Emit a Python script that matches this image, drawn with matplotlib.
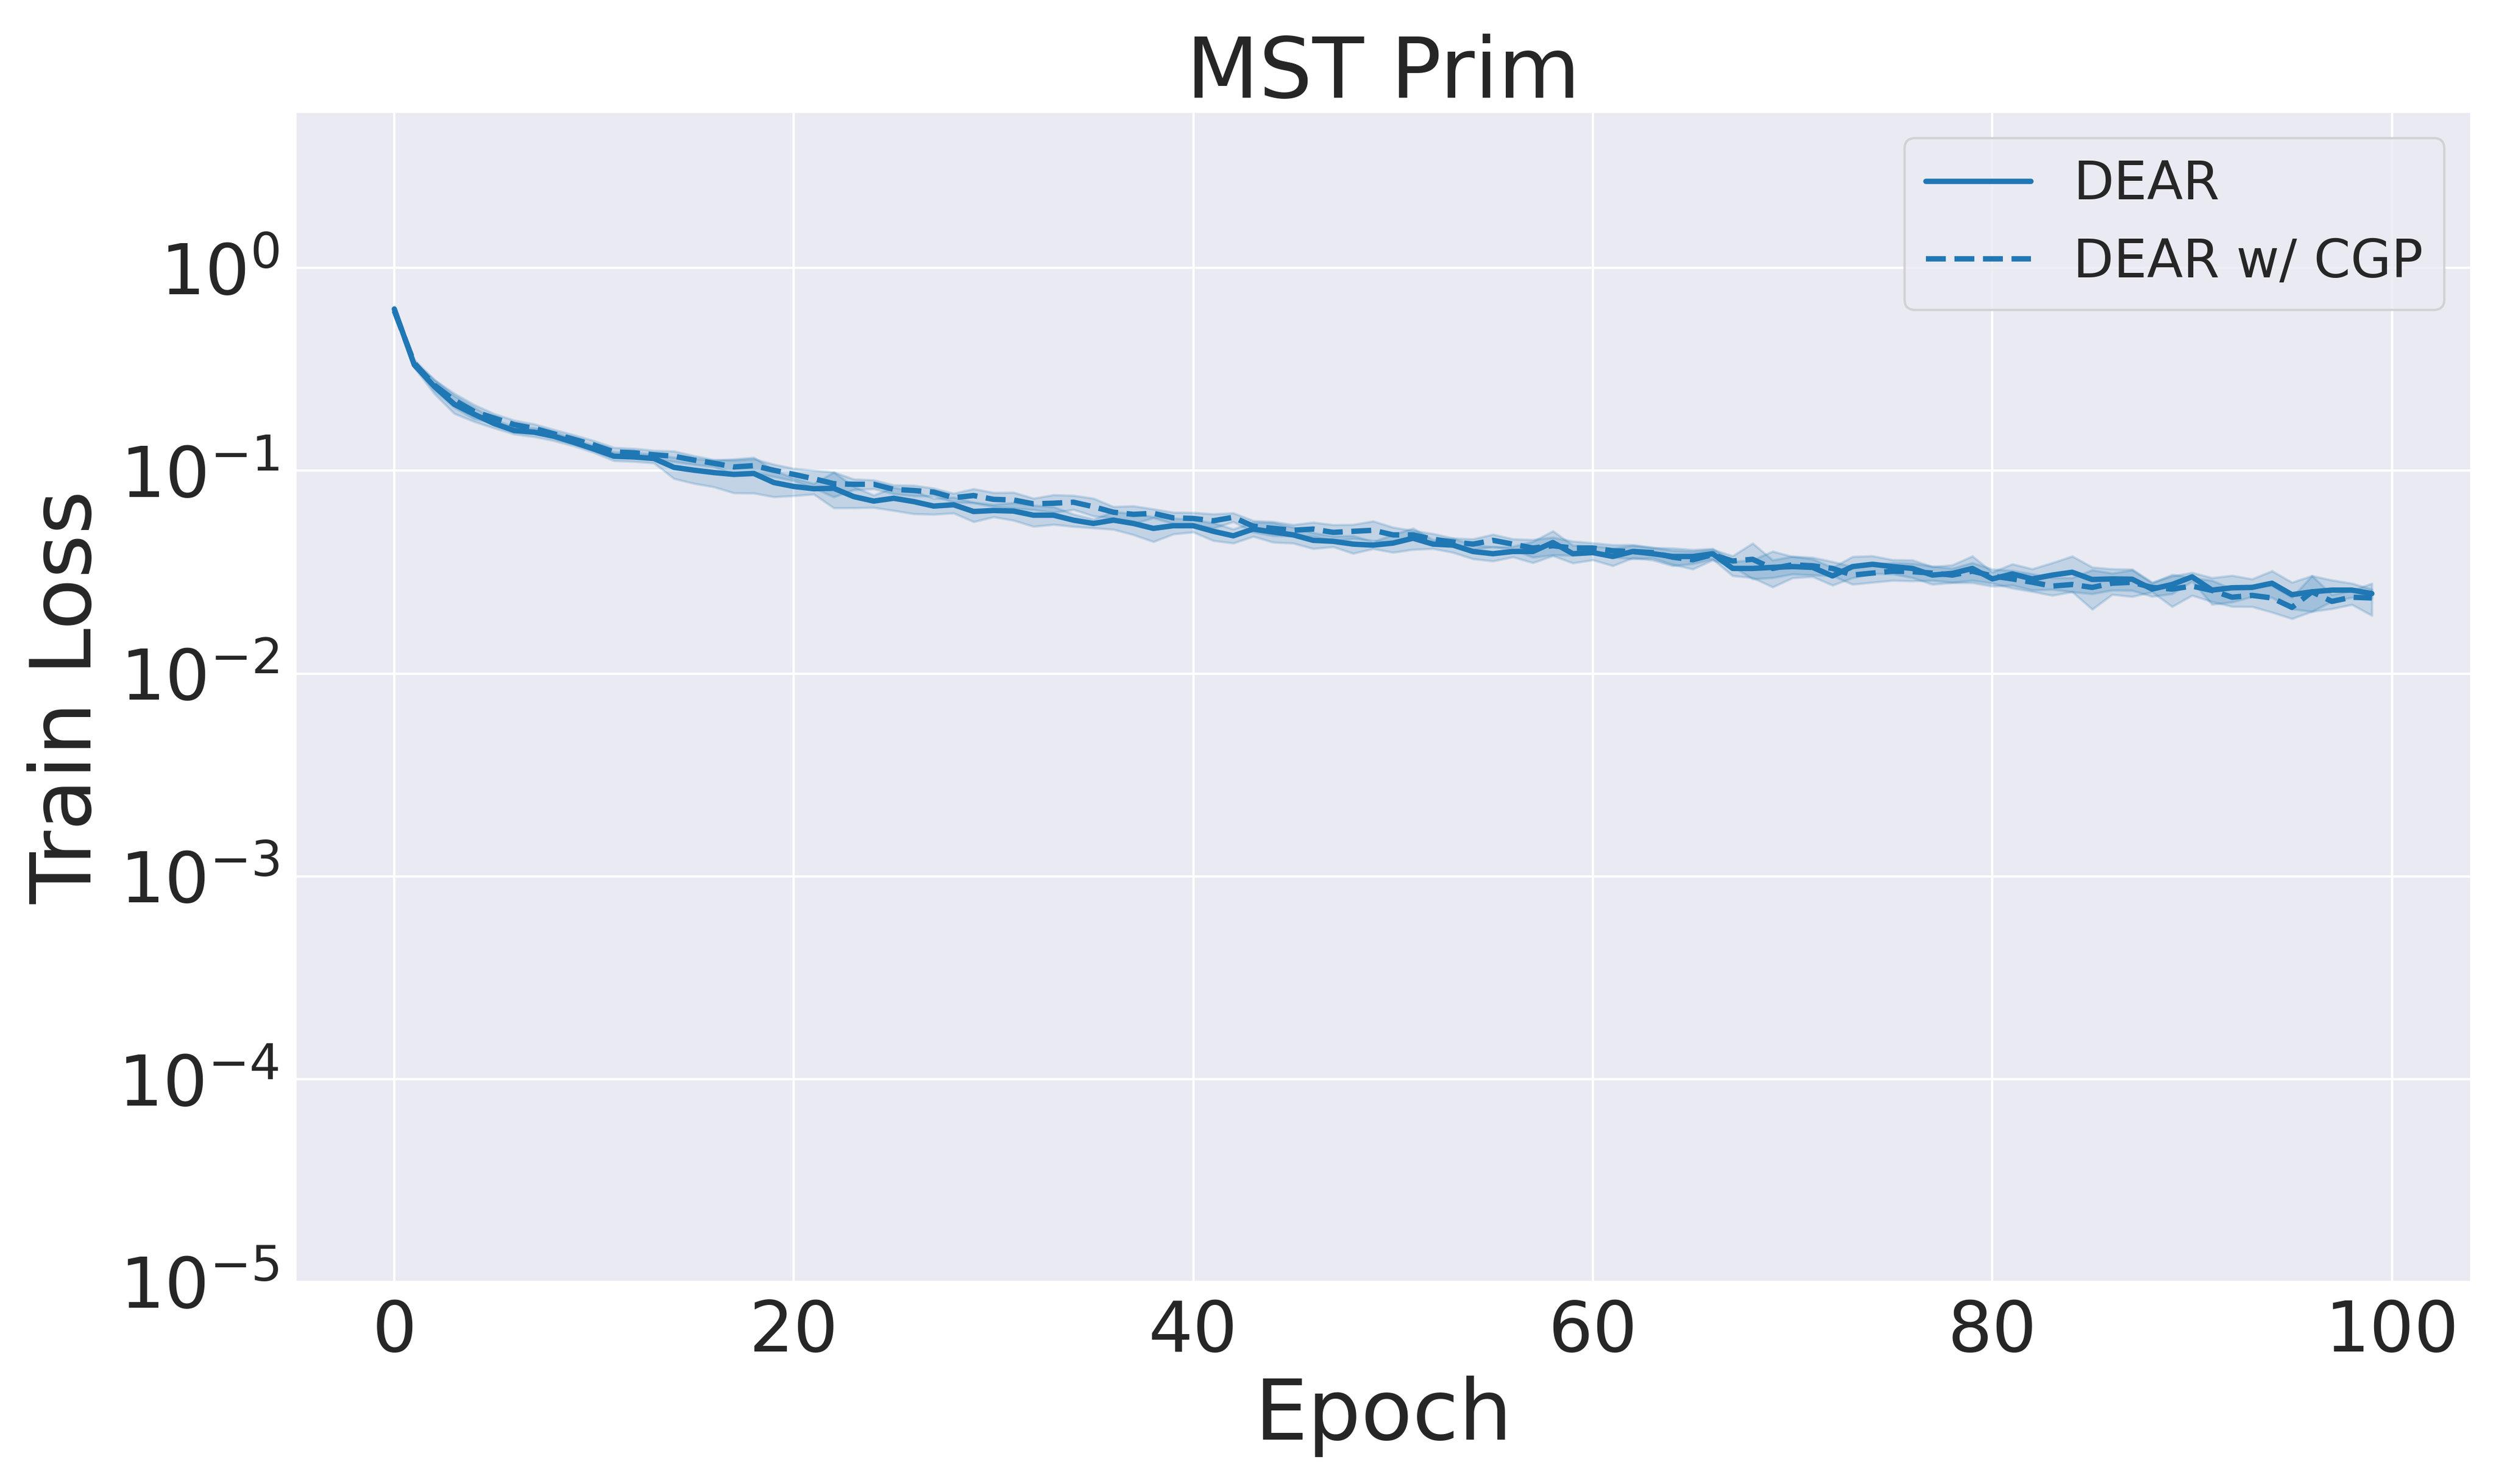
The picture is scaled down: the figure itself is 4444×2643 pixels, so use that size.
import numpy as np
import matplotlib
matplotlib.use("Agg")
import matplotlib.pyplot as plt
import seaborn as sns

epochs = list(range(100))

dear_mean = [
    0.628, 0.333, 0.261, 0.213, 0.190, 0.171, 0.158, 0.155, 0.148, 0.138,
    0.128, 0.118, 0.117, 0.115, 0.104, 0.1007, 0.098, 0.096, 0.097, 0.0875,
    0.0837, 0.0816, 0.082, 0.0746, 0.0709, 0.0732, 0.0705,
    0.067, 0.068, 0.063, 0.0637, 0.0633, 0.0604, 0.0604, 0.0571, 0.055, 0.0571,
    0.055, 0.052, 0.0536, 0.0536, 0.0503, 0.0478, 0.0516, 0.0499, 0.0483, 0.0454,
    0.0449, 0.0435, 0.043, 0.044, 0.0465, 0.0435, 0.043,
    0.040, 0.039, 0.040, 0.040, 0.0443, 0.039, 0.0395, 0.0378, 0.040, 0.039,
    0.0378, 0.0378, 0.039, 0.033, 0.033, 0.0334, 0.0337, 0.0334, 0.0303, 0.0337,
    0.0346, 0.0337, 0.033, 0.0306,
    0.0312, 0.033, 0.0293, 0.031, 0.0293, 0.0306, 0.0316, 0.0291, 0.0293, 0.0292,
    0.0261, 0.0275, 0.030, 0.0258, 0.0265, 0.0266, 0.0279, 0.0245, 0.0253, 0.0258,
    0.0258, 0.0248,
]

dear_cgp_mean = [
    0.615, 0.34, 0.265, 0.223, 0.196, 0.182, 0.169, 0.162, 0.152, 0.143,
    0.134, 0.124, 0.1227, 0.120, 0.118, 0.113, 0.109, 0.1045, 0.106, 0.1006,
    0.096, 0.0914, 0.0864, 0.0858, 0.0858, 0.081, 0.080,
    0.0785, 0.0737, 0.0755, 0.0723, 0.0718, 0.0687, 0.0692, 0.070, 0.0665, 0.0625,
    0.061, 0.0617, 0.0586, 0.0582, 0.0567, 0.059, 0.0533, 0.052, 0.0509, 0.0516,
    0.0497, 0.0503, 0.0509, 0.0483, 0.0483, 0.046, 0.0445,
    0.0435, 0.0454, 0.0435, 0.0416, 0.0427, 0.0416, 0.0416, 0.0403, 0.040, 0.0395,
    0.0375, 0.0364, 0.0386, 0.0359, 0.0366, 0.033, 0.0344, 0.034, 0.033, 0.0306,
    0.0313, 0.032, 0.0318, 0.0313,
    0.0306, 0.032, 0.0303, 0.0293, 0.0282, 0.027, 0.0275, 0.0266, 0.0279, 0.0282,
    0.0266, 0.0261, 0.027, 0.0257, 0.0238, 0.0243, 0.0236, 0.0212, 0.0253, 0.0227,
    0.0238, 0.0236,
]

# relative half-width of the confidence band
dear_spread = [
    0.03, 0.03, 0.08, 0.10, 0.08, 0.05, 0.04, 0.05, 0.05, 0.04, 0.04, 0.05, 0.05,
    0.05, 0.12, 0.14, 0.15, 0.19, 0.20, 0.15, 0.10, 0.06, 0.20, 0.12, 0.07, 0.13, 0.13,
    0.09, 0.09, 0.11, 0.07, 0.10, 0.12, 0.10, 0.07, 0.05, 0.10, 0.12, 0.14, 0.09,
    0.07, 0.10, 0.08, 0.08, 0.11, 0.09, 0.09, 0.06, 0.10, 0.04, 0.10, 0.12, 0.05, 0.08,
    0.08, 0.08, 0.06, 0.12, 0.14, 0.10, 0.08, 0.10, 0.07, 0.07, 0.10, 0.08, 0.06,
    0.08, 0.10, 0.20, 0.12, 0.10, 0.10, 0.12, 0.10, 0.08, 0.10, 0.10,
    0.10, 0.15, 0.08, 0.12, 0.12, 0.15, 0.20, 0.15, 0.12, 0.12, 0.08, 0.10, 0.05,
    0.15, 0.15, 0.10, 0.15, 0.15, 0.20, 0.12, 0.08, 0.05,
]

dear_cgp_spread = [
    0.03, 0.04, 0.06, 0.08, 0.08, 0.05, 0.05, 0.05, 0.05, 0.05, 0.05, 0.05, 0.05,
    0.05, 0.06, 0.05, 0.04, 0.08, 0.08, 0.07, 0.07, 0.10, 0.14, 0.06, 0.05, 0.05, 0.06,
    0.045, 0.05, 0.08, 0.08, 0.09, 0.065, 0.10, 0.08, 0.10, 0.065, 0.10, 0.05, 0.065,
    0.07, 0.08, 0.05, 0.065, 0.08, 0.065, 0.08, 0.09, 0.08, 0.11, 0.09, 0.05, 0.065, 0.045,
    0.06, 0.07, 0.06, 0.10, 0.10, 0.08, 0.06, 0.07, 0.08, 0.06, 0.08, 0.10, 0.06,
    0.06, 0.20, 0.10, 0.10, 0.10, 0.08, 0.10, 0.10, 0.10, 0.10, 0.08,
    0.08, 0.10, 0.08, 0.10, 0.10, 0.10, 0.08, 0.22, 0.12, 0.15, 0.05, 0.18, 0.10,
    0.12, 0.10, 0.12, 0.15, 0.12, 0.20, 0.08, 0.08, 0.18,
]

series_labels = ["DEAR", "DEAR w/ CGP"]
title_text = "MST Prim"
x_label = "Epoch"
y_label = "Train Loss"

sns.set_style("darkgrid")
plt.rcParams["font.family"] = ["DejaVu Sans"]
plt.rcParams["grid.linewidth"] = 1.0

fig = plt.figure(figsize=(4444 / 300, 2643 / 300), dpi=300)
ax = fig.add_axes([526 / 4444, 1 - 2283 / 2643, (4399 - 526) / 4444, (2283 - 199) / 2643])

color = "#1f77b4"
x = np.array(epochs)
for mean, spread, ls, lab in [
    (dear_mean, dear_spread, "-", series_labels[0]),
    (dear_cgp_mean, dear_cgp_spread, "--", series_labels[1]),
]:
    m = np.array(mean)
    s = np.array(spread)
    ax.plot(x, m, color=color, linestyle=ls, linewidth=2.3, label=lab)
    ax.fill_between(x, m * (1 - s), m * (1 + s), color=color, alpha=0.2, linewidth=1)

ax.set_yscale("log")
ax.set_ylim(1e-5, 5.9)
ax.set_xticks([0, 20, 40, 60, 80, 100])
ax.tick_params(axis="both", labelsize=30, colors="#262626")
ax.set_xlabel(x_label, fontsize=36, color="#262626")
ax.set_ylabel(y_label, fontsize=36, color="#262626")
ax.set_title(title_text, fontsize=36, color="#262626")
ax.legend(loc="upper right", fontsize=22.5)

fig.savefig("out.png", dpi=300)
